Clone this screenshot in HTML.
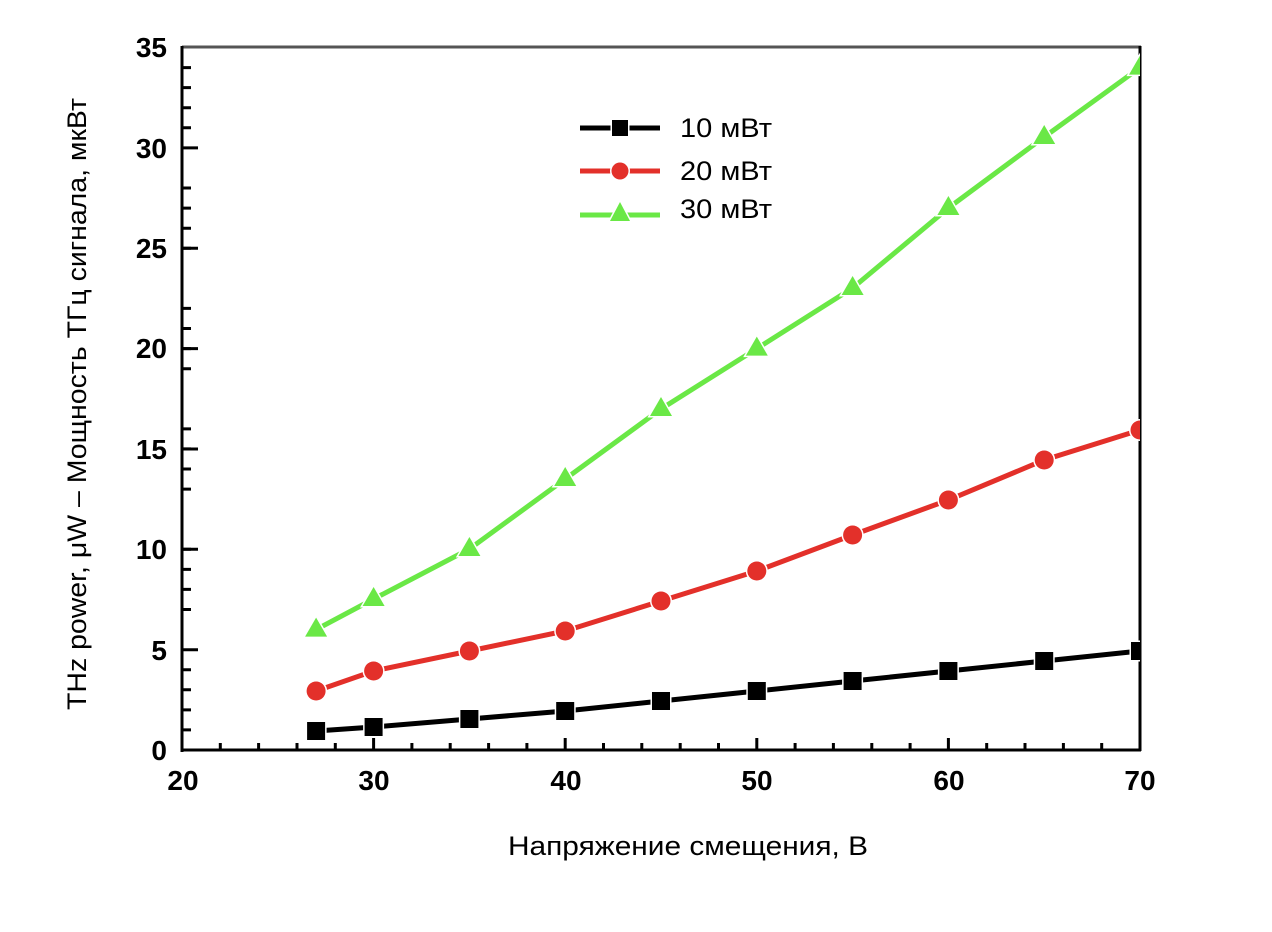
<!DOCTYPE html>
<html><head><meta charset="utf-8"><style>
html,body{margin:0;padding:0;background:#fff;}
svg{display:block;}
</style></head><body>
<svg width="1272" height="932" viewBox="0 0 1272 932" xmlns="http://www.w3.org/2000/svg">
<defs><clipPath id="pc"><rect x="182" y="40" width="958" height="712"/></clipPath></defs>
<rect width="1272" height="932" fill="#fff"/>
<!-- frame -->
<line x1="182" y1="47" x2="1141" y2="47" stroke="#555" stroke-width="3"/>
<line x1="1140" y1="46" x2="1140" y2="751" stroke="#000" stroke-width="3"/>
<line x1="182" y1="46" x2="182" y2="752" stroke="#000" stroke-width="3"/>
<line x1="181" y1="750" x2="1141" y2="750" stroke="#000" stroke-width="3"/>
<!-- y ticks -->
<g stroke="#000" stroke-width="3">
<path d="M182 729.9h9M182 709.9h9M182 689.8h9M182 669.7h9M182 609.5h9M182 589.4h9M182 569.4h9M182 549.3h9M182 489.1h9M182 469h9M182 448.9h9M182 428.9h9M182 368.7h9M182 348.6h9M182 328.5h9M182 308.4h9M182 248.2h9M182 228.2h9M182 208.1h9M182 188h9M182 127.8h9M182 107.7h9M182 87.6h9M182 67.6h9"/>
<path d="M182 649.7h16M182 549.3h16M182 449h16M182 348.6h16M182 248.2h16M182 147.9h16"/>
<!-- x ticks -->
<path d="M220.3 750v-7M258.6 750v-7M297 750v-7M335.3 750v-7M411.9 750v-7M450.2 750v-7M488.6 750v-7M526.9 750v-7M603.5 750v-7M641.8 750v-7M680.2 750v-7M718.5 750v-7M795.1 750v-7M833.4 750v-7M871.8 750v-7M910.1 750v-7M986.7 750v-7M1025 750v-7M1063.4 750v-7M1101.7 750v-7"/>
<path d="M373.6 750v-12M565.2 750v-12M756.8 750v-12M948.4 750v-12"/>
</g>
<!-- tick labels -->
<g font-family="Liberation Sans, Arial, sans-serif" font-weight="bold" font-size="28" fill="#000" text-anchor="end">
<text x="167" y="760">0</text>
<text x="167" y="660">5</text>
<text x="167" y="559">10</text>
<text x="167" y="459">15</text>
<text x="167" y="358">20</text>
<text x="167" y="258">25</text>
<text x="167" y="158">30</text>
<text x="167" y="57">35</text>
</g>
<g font-family="Liberation Sans, Arial, sans-serif" font-weight="bold" font-size="28" fill="#000" text-anchor="middle">
<text x="183" y="790">20</text>
<text x="374" y="790">30</text>
<text x="566" y="790">40</text>
<text x="757" y="790">50</text>
<text x="949" y="790">60</text>
<text x="1140" y="790">70</text>
</g>
<!-- series -->
<g clip-path="url(#pc)">
<polyline fill="none" stroke="#6ae846" stroke-width="5" points="316.1,629.6 373.6,599 469.4,549 565.2,479 661,409 756.8,348.6 852.6,288 948.4,208 1044.2,137 1140,67.6"/>
<polyline fill="none" stroke="#e3302a" stroke-width="5" points="316.1,691 373.6,671 469.4,651 565.2,631 661,601 756.8,571 852.6,535 948.4,500 1044.2,460 1140,430"/>
<polyline fill="none" stroke="#000" stroke-width="5" points="316.1,731 373.6,727 469.4,719 565.2,711 661,701 756.8,691 852.6,681 948.4,671 1044.2,661 1140,651"/>
<!-- triangles -->
<g fill="#6ae846" stroke="#fff" stroke-width="3" paint-order="stroke">
<polygon points="316.1,617.6 327.1,636.6 305.1,636.6"/>
<polygon points="373.6,587 384.6,606 362.6,606"/>
<polygon points="469.4,537 480.4,556 458.4,556"/>
<polygon points="565.2,467 576.2,486 554.2,486"/>
<polygon points="661,397 672,416 650,416"/>
<polygon points="756.8,336.6 767.8,355.6 745.8,355.6"/>
<polygon points="852.6,276 863.6,295 841.6,295"/>
<polygon points="948.4,196 959.4,215 937.4,215"/>
<polygon points="1044.2,125 1055.2,144 1033.2,144"/>
<polygon points="1140,55.6 1151,74.6 1129,74.6"/>
</g>
<g fill="#e3302a" stroke="#fff" stroke-width="3" paint-order="stroke">
<circle cx="316.1" cy="691" r="9.5"/>
<circle cx="373.6" cy="671" r="9.5"/>
<circle cx="469.4" cy="651" r="9.5"/>
<circle cx="565.2" cy="631" r="9.5"/>
<circle cx="661" cy="601" r="9.5"/>
<circle cx="756.8" cy="571" r="9.5"/>
<circle cx="852.6" cy="535" r="9.5"/>
<circle cx="948.4" cy="500" r="9.5"/>
<circle cx="1044.2" cy="460" r="9.5"/>
<circle cx="1140" cy="430" r="9.5"/>
</g>
<g fill="#000" stroke="#fff" stroke-width="3" paint-order="stroke">
<rect x="307.1" y="722" width="18" height="18"/>
<rect x="364.6" y="718" width="18" height="18"/>
<rect x="460.4" y="710" width="18" height="18"/>
<rect x="556.2" y="702" width="18" height="18"/>
<rect x="652" y="692" width="18" height="18"/>
<rect x="747.8" y="682" width="18" height="18"/>
<rect x="843.6" y="672" width="18" height="18"/>
<rect x="939.4" y="662" width="18" height="18"/>
<rect x="1035.2" y="652" width="18" height="18"/>
<rect x="1131" y="642" width="18" height="18"/>
</g>
</g>
<!-- legend -->
<line x1="580" y1="128" x2="660" y2="128" stroke="#000" stroke-width="5"/>
<rect x="612" y="120" width="16" height="16" fill="#000" stroke="#fff" stroke-width="3" paint-order="stroke"/>
<line x1="580" y1="171" x2="660" y2="171" stroke="#e3302a" stroke-width="5"/>
<circle cx="620" cy="171" r="8.5" fill="#e3302a" stroke="#fff" stroke-width="3" paint-order="stroke"/>
<line x1="580" y1="215" x2="660" y2="215" stroke="#6ae846" stroke-width="5"/>
<polygon points="620,202 630,221 610,221" fill="#6ae846" stroke="#fff" stroke-width="3" paint-order="stroke"/>
<g font-family="Liberation Sans, Arial, sans-serif" font-size="27" fill="#000">
<text x="680" y="137" textLength="92" lengthAdjust="spacingAndGlyphs">10 мВт</text>
<text x="680" y="180" textLength="92" lengthAdjust="spacingAndGlyphs">20 мВт</text>
<text x="680" y="218" textLength="92" lengthAdjust="spacingAndGlyphs">30 мВт</text>
</g>
<!-- axis titles -->
<text x="508" y="855" font-family="Liberation Sans, Arial, sans-serif" font-size="27" fill="#000" textLength="360" lengthAdjust="spacingAndGlyphs">Напряжение смещения, В</text>
<text transform="translate(86,404) rotate(-90)" text-anchor="middle" font-family="Liberation Sans, Arial, sans-serif" font-size="27" fill="#000" textLength="612" lengthAdjust="spacingAndGlyphs">THz power, μW – Мощность ТГц сигнала, мкВт</text>
</svg>
</body></html>
